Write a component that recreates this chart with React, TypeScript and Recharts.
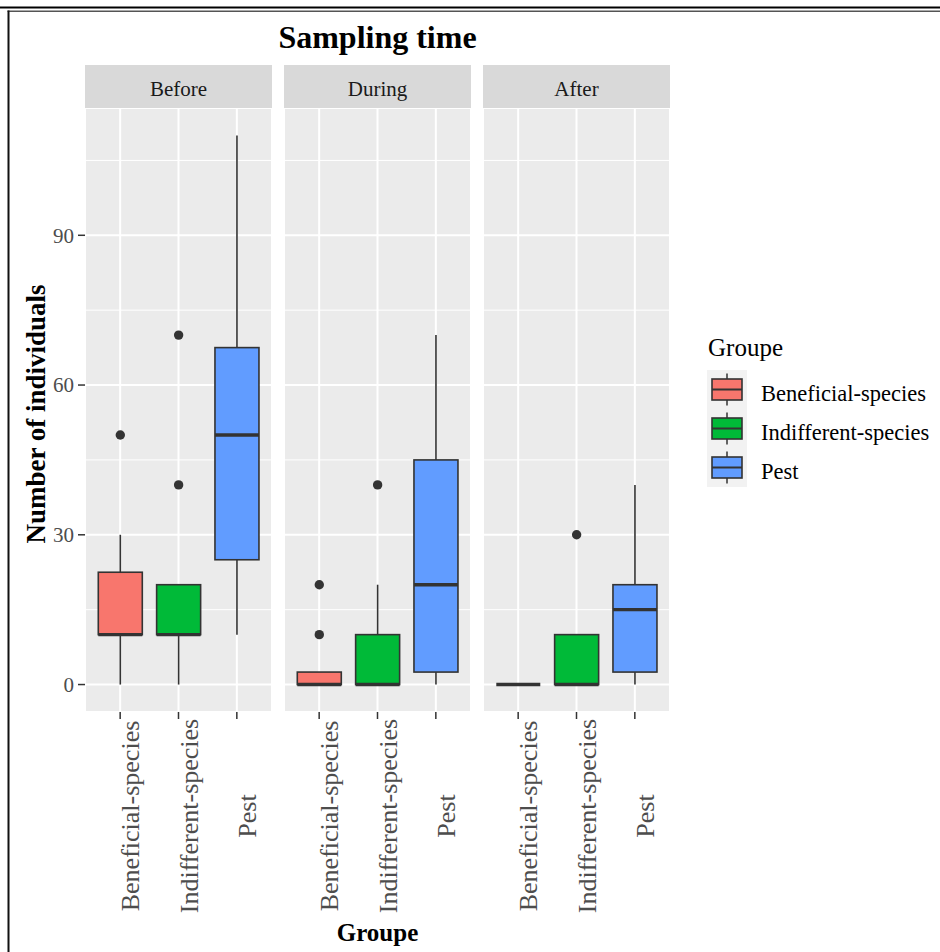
import React from 'react';
import { ComposedChart, Bar, XAxis, YAxis, CartesianGrid } from 'recharts';

const groups = ['Beneficial-species', 'Indifferent-species', 'Pest'];
const groupColors = ['#F8766D', '#00BA38', '#619CFF'];
const periods = ['Before', 'During', 'After'];

const majorTicks = [0, 30, 60, 90];
const minorTicks = [15, 45, 75, 105];
const yDomain = [-5.5, 115.5];

// box stats per period, one value per group (low whisker, Q1, median, Q3, high whisker)
const beforeLow = [0, 0, 10];
const beforeQ1 = [10, 10, 25];
const beforeMedian = [10, 10, 50];
const beforeQ3 = [22.5, 20, 67.5];
const beforeHigh = [30, 20, 110];
const beforeOutliers = [[50], [40, 70], []];

const duringLow = [0, 0, 0];
const duringQ1 = [0, 0, 2.5];
const duringMedian = [0, 0, 20];
const duringQ3 = [2.5, 10, 45];
const duringHigh = [2.5, 20, 70];
const duringOutliers = [[10, 20], [40], []];

const afterLow = [0, 0, 0];
const afterQ1 = [0, 0, 2.5];
const afterMedian = [0, 0, 15];
const afterQ3 = [0, 10, 20];
const afterHigh = [0, 10, 40];
const afterOutliers = [[], [30], []];

const FONT = '"Liberation Serif", "Times New Roman", serif';

const buildRows = (low: number[], q1: number[], med: number[], q3: number[], high: number[], out: number[][]) =>
    groups.map((g, i) => ({
        group: g,
        color: groupColors[i],
        low: low[i],
        q1: q1[i],
        median: med[i],
        q3: q3[i],
        high: high[i],
        outliers: out[i],
    }));

const panels = [
    buildRows(beforeLow, beforeQ1, beforeMedian, beforeQ3, beforeHigh, beforeOutliers),
    buildRows(duringLow, duringQ1, duringMedian, duringQ3, duringHigh, duringOutliers),
    buildRows(afterLow, afterQ1, afterMedian, afterQ3, afterHigh, afterOutliers),
];

// the bar spans the whole y domain, so its y/height give us the axis scale
const BoxShape = (props: any) => {
    const { x, y, width, height, payload } = props;
    const [dMin, dMax] = yDomain;
    const toY = (v: number) => y + ((dMax - v) / (dMax - dMin)) * height;
    const cx = x + width / 2;
    return (
        <g>
            <line x1={cx} x2={cx} y1={toY(payload.high)} y2={toY(payload.q3)} stroke="#333333" strokeWidth={1.6} />
            <line x1={cx} x2={cx} y1={toY(payload.q1)} y2={toY(payload.low)} stroke="#333333" strokeWidth={1.6} />
            <rect
                x={x}
                y={toY(payload.q3)}
                width={width}
                height={toY(payload.q1) - toY(payload.q3)}
                fill={payload.color}
                stroke="#333333"
                strokeWidth={1.6}
            />
            <line x1={x} x2={x + width} y1={toY(payload.median)} y2={toY(payload.median)} stroke="#333333" strokeWidth={3.4} />
            {payload.outliers.map((o: number, i: number) => (
                <circle key={i} cx={cx} cy={toY(o)} r={4.7} fill="#333333" />
            ))}
        </g>
    );
};

// rotated labels, centred along the axis like ggplot's angle = 90
const GroupTick = (props: any) => {
    const { x, y, payload } = props;
    return (
        <text
            x={x}
            y={y}
            dx={-95}
            dy={19}
            transform={`rotate(-90, ${x}, ${y})`}
            textAnchor="middle"
            fontSize={26}
            fill="#4d4d4d"
            fontFamily={FONT}
        >
            {payload.value}
        </text>
    );
};

const PANEL_LEFT = [85, 284, 483];
const PANEL_W = 187;
const PANEL_TOP = 108;
const PLOT_H = 604;
const XAXIS_H = 215;
const YAXIS_W = 40;

const Panel = ({ data, index }: { data: any[]; index: number }) => {
    const showY = index === 0;
    const w = PANEL_W + (showY ? YAXIS_W : 0);
    return (
        <div style={{ position: 'absolute', left: PANEL_LEFT[index] - (showY ? YAXIS_W : 0), top: PANEL_TOP }}>
            <ComposedChart
                width={w}
                height={PLOT_H + XAXIS_H}
                data={data}
                margin={{ top: 0, right: 0, bottom: 0, left: 0 }}
                barCategoryGap="12.5%"
            >
                <CartesianGrid yAxisId="minor" vertical={false} stroke="#ffffff" strokeWidth={1} fill="#ebebeb" />
                <CartesianGrid yAxisId="major" stroke="#ffffff" strokeWidth={2} />
                <XAxis
                    dataKey="group"
                    type="category"
                    interval={0}
                    padding={{ left: 6, right: 6 }}
                    height={XAXIS_H}
                    axisLine={false}
                    tickSize={7}
                    tickLine={{ stroke: '#333333', strokeWidth: 1.5 }}
                    tick={<GroupTick />}
                />
                <YAxis
                    yAxisId="major"
                    type="number"
                    domain={yDomain}
                    ticks={majorTicks}
                    allowDataOverflow
                    hide={!showY}
                    width={YAXIS_W}
                    axisLine={false}
                    tickSize={7}
                    tickMargin={4}
                    tickLine={{ stroke: '#333333', strokeWidth: 1.5 }}
                    tick={{ fontSize: 21, fill: '#4d4d4d', fontFamily: FONT }}
                />
                <YAxis yAxisId="minor" type="number" domain={yDomain} ticks={minorTicks} allowDataOverflow hide />
                <Bar
                    yAxisId="major"
                    dataKey={() => yDomain}
                    shape={<BoxShape />}
                    isAnimationActive={false}
                />
            </ComposedChart>
        </div>
    );
};

const App = () => {
    const legendTop = 370;
    const rowH = 39;
    return (
        <div
            style={{
                position: 'absolute',
                left: 0,
                top: 0,
                width: 940,
                height: 952,
                background: '#ffffff',
                overflow: 'hidden',
                fontFamily: FONT,
            }}
        >
            <svg width={940} height={952} style={{ position: 'absolute', left: 0, top: 0 }}>
                {/* page frame */}
                <rect x={0} y={6.5} width={940} height={2} fill="#000000" />
                <rect x={7.5} y={10.5} width={933} height={1.5} fill="#555555" />
                <rect x={7.5} y={10.5} width={2} height={942} fill="#111111" />

                <text x={377.5} y={48} textAnchor="middle" fontSize={32} fontWeight="bold" fontFamily={FONT}>
                    Sampling time
                </text>

                {periods.map((p, i) => (
                    <g key={p}>
                        <rect x={PANEL_LEFT[i]} y={65} width={PANEL_W} height={PANEL_TOP - 65} fill="#d9d9d9" />
                        <text
                            x={PANEL_LEFT[i] + PANEL_W / 2}
                            y={96}
                            textAnchor="middle"
                            fontSize={21}
                            fill="#1a1a1a"
                            fontFamily={FONT}
                        >
                            {p}
                        </text>
                    </g>
                ))}

                <text
                    x={45}
                    y={414}
                    transform="rotate(-90, 45, 414)"
                    textAnchor="middle"
                    fontSize={27}
                    fontWeight="bold"
                    fontFamily={FONT}
                >
                    Number of individuals
                </text>

                <text x={377.5} y={941} textAnchor="middle" fontSize={25} fontWeight="bold" fontFamily={FONT}>
                    Groupe
                </text>

                {/* legend */}
                <text x={708} y={356} fontSize={25} fontFamily={FONT}>
                    Groupe
                </text>
                <rect x={707} y={legendTop} width={40} height={rowH * groups.length} fill="#f2f2f2" />
                {groups.map((g, i) => {
                    const cy = legendTop + rowH * i + rowH / 2;
                    return (
                        <g key={g}>
                            <line x1={727} x2={727} y1={cy - 16} y2={cy + 16} stroke="#333333" strokeWidth={1.5} />
                            <rect x={712} y={cy - 10.5} width={30} height={21} fill={groupColors[i]} stroke="#333333" strokeWidth={1.6} />
                            <line x1={712} x2={742} y1={cy} y2={cy} stroke="#333333" strokeWidth={2} />
                            <text x={761} y={cy + 11} fontSize={22.5} fontFamily={FONT}>
                                {g}
                            </text>
                        </g>
                    );
                })}
            </svg>
            {panels.map((d, i) => (
                <Panel key={periods[i]} data={d} index={i} />
            ))}
        </div>
    );
};

export default App;
